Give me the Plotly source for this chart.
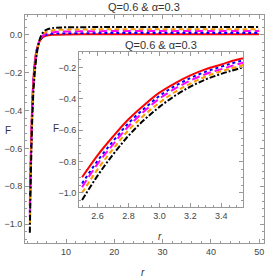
import plotly.graph_objects as go

r = [2.5, 2.6, 2.7, 2.8, 2.9, 3.0, 3.1, 3.2, 3.3, 3.4, 3.5, 3.75, 4, 4.5, 5, 5.5, 6, 7, 8, 10, 15, 20, 30, 40, 50]
F_red = [-0.90, -0.76, -0.64, -0.53, -0.44, -0.36, -0.30, -0.25, -0.21, -0.18, -0.15, -0.10, -0.07, -0.035, -0.017, -0.008, -0.003, 0.0, 0.001, 0.002, 0.003, 0.003, 0.003, 0.003, 0.003]
F_blue = [-0.94, -0.795, -0.67, -0.555, -0.463, -0.381, -0.318, -0.267, -0.226, -0.194, -0.164, -0.11, -0.075, -0.035, -0.014, -0.004, 0.001, 0.005, 0.007, 0.008, 0.009, 0.010, 0.010, 0.010, 0.010]
F_magenta = [-0.963, -0.815, -0.69, -0.575, -0.48, -0.398, -0.335, -0.283, -0.241, -0.21, -0.18, -0.12, -0.08, -0.033, -0.009, 0.003, 0.009, 0.014, 0.016, 0.018, 0.019, 0.020, 0.020, 0.020, 0.020]
F_orange = [-1.00, -0.85, -0.72, -0.60, -0.505, -0.424, -0.356, -0.302, -0.257, -0.223, -0.195, -0.13, -0.085, -0.03, -0.003, 0.01, 0.017, 0.023, 0.026, 0.028, 0.029, 0.030, 0.030, 0.030, 0.030]
F_black = [-1.046, -0.89, -0.755, -0.635, -0.535, -0.451, -0.38, -0.322, -0.275, -0.24, -0.21, -0.14, -0.09, -0.028, 0.004, 0.02, 0.028, 0.035, 0.038, 0.040, 0.041, 0.042, 0.042, 0.042, 0.042]

series = [
    (F_red, "#ff0000", "solid"),
    (F_blue, "#0000ff", "dot"),
    (F_magenta, "#ff00ff", "8px,4px"),
    (F_orange, "#ff9900", "5px,3px"),
    (F_black, "#000000", "6px,2px,2px,2px"),
]

title_text = "Q=0.6 & α=0.3"
FONT = "Liberation Sans"
FRAME = "#999999"
TICKC = "#444444"

fig = go.Figure()
for ys, c, d in series:
    fig.add_trace(go.Scatter(x=r, y=ys, mode="lines", line=dict(color=c, width=2, dash=d, shape="spline"),
                             showlegend=False, xaxis="x", yaxis="y"))
for ys, c, d in series:
    fig.add_trace(go.Scatter(x=r, y=ys, mode="lines", line=dict(color=c, width=2, dash=d, shape="spline"),
                             showlegend=False, xaxis="x2", yaxis="y2"))

def ax(**kw):
    base = dict(showline=True, linecolor=FRAME, linewidth=1, mirror="allticks", ticks="inside",
                ticklen=4, tickcolor=FRAME, showgrid=False, zeroline=False,
                tickfont=dict(family=FONT, size=9, color=TICKC))
    base.update(kw)
    return base

W, H = 266, 280
L, R, T, B = 25, 2, 15, 37
pw, ph = W - L - R, H - T - B

fig.update_layout(
    width=W, height=H,
    margin=dict(l=L, r=R, t=T, b=B),
    paper_bgcolor="white", plot_bgcolor="white",
    xaxis=ax(range=[1.5, 51], tickvals=[10, 20, 30, 40, 50],
             minor=dict(dtick=2, tick0=0, ticks="inside", ticklen=2, tickcolor=FRAME)),
    yaxis=ax(range=[-1.1, 0.105], tickvals=[0.0, -0.2, -0.4, -0.6, -0.8, -1.0], tickformat=".1f",
             minor=dict(dtick=0.04, tick0=0, ticks="inside", ticklen=2, tickcolor=FRAME)),
    xaxis2=ax(domain=[0.226, 0.912], anchor="y2", range=[2.48, 3.54],
              tickvals=[2.6, 2.8, 3.0, 3.2, 3.4], tickformat=".1f",
              minor=dict(dtick=0.05, tick0=0, ticks="inside", ticklen=2, tickcolor=FRAME)),
    yaxis2=ax(domain=[0.158, 0.838], anchor="x2", range=[-1.09, -0.1],
              tickvals=[-0.2, -0.4, -0.6, -0.8, -1.0], tickformat=".1f",
              minor=dict(dtick=0.05, tick0=0, ticks="inside", ticklen=2, tickcolor=FRAME)),
    shapes=[dict(type="rect", xref="x2 domain", yref="y2 domain", x0=0, x1=1, y0=0, y1=1,
                 fillcolor="white", line=dict(width=0), layer="below")],
)

# (text, x px from left, y px from top, size)
labels = [
    (title_text, 144, 7, 11),
    (title_text, 161, 45, 11),
    ("F", 8, 130, 10),
    ("F", 56, 128, 10),
    ("<i>r</i>", 143, 272, 10),
    ("<i>r</i>", 160, 236, 10),
]
fig.update_layout(annotations=[
    dict(text=t, xref="paper", yref="paper", x=(px - L) / pw, y=((H - py) - B) / ph,
         showarrow=False, xanchor="center", yanchor="middle",
         font=dict(family=FONT, size=s, color="#333333"))
    for t, px, py, s in labels
])

fig.write_html("out.html", config={"displayModeBar": False},
               post_script="document.body.style.margin='0';")
